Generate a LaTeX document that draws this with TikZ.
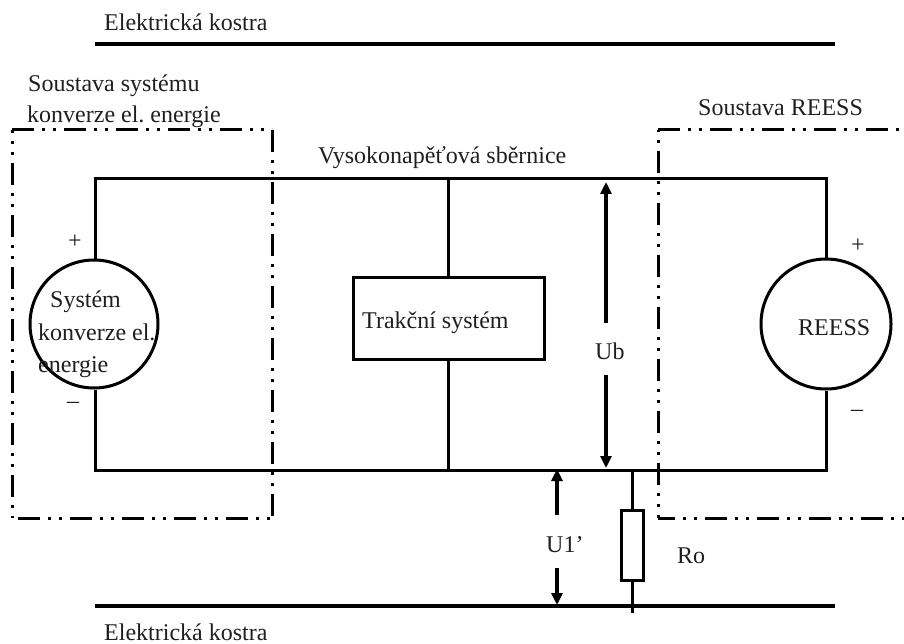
\documentclass[tikz,border=0pt]{standalone}
\usepackage{fontspec}
\setmainfont{Liberation Serif}
\usetikzlibrary{arrows.meta}
\tikzset{
  x=1pt,y=-1pt,
  wire/.style={line width=3pt,line join=miter},
  rail/.style={line width=4.5pt},
  frame/.style={line width=3pt,dash pattern=on 22pt off 8pt on 3pt off 8pt on 3pt off 8pt},
  volt/.style={line width=4pt,-{Triangle[length=12pt,width=11pt]}},
  lbl/.style={anchor=base west,inner sep=0pt,font=\frenchspacing\fontsize{24}{28}\selectfont,text=black!88},
  src/.style={draw,circle,line width=3pt,inner sep=0pt},
  box/.style={draw,line width=3pt,inner sep=0pt}
}
\begin{document}
\begin{tikzpicture}
\useasboundingbox (0,0) rectangle (904,644);
\coordinate (railTL) at (95,44); \coordinate (railTR) at (835,44);
\coordinate (railBL) at (95,606); \coordinate (railBR) at (835,606);
\coordinate (busTL) at (95,179); \coordinate (busTM) at (448,179); \coordinate (busTR) at (826,179);
\coordinate (busBL) at (95,470); \coordinate (busBM) at (448,470); \coordinate (busBR) at (826,470);
\coordinate (ubT) at (606,182); \coordinate (ubB) at (606,468);
\coordinate (ubA) at (606,323); \coordinate (ubC) at (606,375);
\coordinate (uaT) at (557,469); \coordinate (uaB) at (557,605);
\coordinate (uaA) at (557,515); \coordinate (uaC) at (557,568);
\coordinate (roT) at (632,470); \coordinate (roB) at (632,613);
\coordinate (fLa) at (272,130); \coordinate (fLb) at (272,518); \coordinate (fLc) at (12,518); \coordinate (fLd) at (12,130);
\coordinate (fRa) at (904,130); \coordinate (fRb) at (658,130); \coordinate (fRc) at (658,518); \coordinate (fRd) at (904,518);

\draw[rail] (railTL) -- (railTR);
\draw[rail] (railBL) -- (railBR);

\node[src,minimum size=128pt] (srcL) at (94,324) {};
\node[src,minimum size=130pt] (srcR) at (826,324) {};
\node[box,minimum width=191pt,minimum height=82pt] (trak) at (448.5,318) {};
\node[box,minimum width=22pt,minimum height=70pt] (ro) at (632,545) {};

\draw[wire] (srcL.north -| busTL) -- (busTL) -- (busTR) -- (srcR.north);
\draw[wire] (srcL.south -| busBL) -- (busBL) -- (busBR) -- (srcR.south);
\draw[wire] (busTM) -- (trak.north -| busTM);
\draw[wire] (trak.south -| busBM) -- (busBM);
\draw[wire] (roT) -- (ro.north);
\draw[wire] (ro.south) -- (roB);

\draw[volt] (ubA) -- (ubT);
\draw[volt] (ubC) -- (ubB);
\draw[volt] (uaA) -- (uaT);
\draw[volt] (uaC) -- (uaB);

\draw[frame] (fLd) -- (fLa);
\draw[frame] (fLa) -- (fLb);
\draw[frame,dash phase=19pt] (fLd) -- (fLc);
\draw[frame,dash phase=46pt] (fLc) -- (fLb);
\draw[frame] (fRb) -- (fRa);
\draw[frame,dash phase=31pt] (fRb) -- (fRc);
\draw[frame,dash phase=5pt] (fRc) -- (fRd);

\node[lbl] (t1) at (104,31) {Elektrická kostra};
\node[lbl] (t2) at (104,640) {Elektrická kostra};
\node[lbl] (t3) at (28,92) {Soustava systému};
\node[lbl] (t4) at (27,123) {konverze el. energie};
\node[lbl] (t5) at (698,116) {Soustava REESS};
\node[lbl] (t6) at (318,164) {Vysokonapěťová sběrnice};
\node[lbl] (t7) at (50,307) {Systém};
\node[lbl] (t8) at (38,340) {konverze el.};
\node[lbl] (t9) at (38,372) {energie};
\node[lbl] (t10) at (362,328) {Trakční systém};
\node[lbl] (t11) at (798,335) {REESS};
\node[lbl] (t12) at (595,359) {Ub};
\node[lbl] (t13) at (546,552) {U1’};
\node[lbl] (t14) at (677,563) {Ro};
\node[lbl] (p1) at (68,249) {+};
\node[lbl] (m1) at (67,408) {–};
\node[lbl] (p2) at (851,252) {+};
\node[lbl] (m2) at (851,416) {–};
\end{tikzpicture}
\end{document}
